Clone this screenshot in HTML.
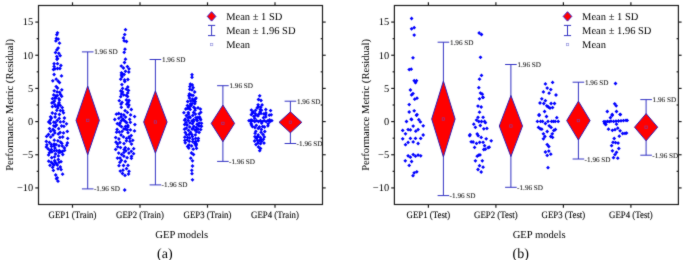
<!DOCTYPE html>
<html><head><meta charset="utf-8"><style>
html,body{margin:0;padding:0;background:#fff;width:685px;height:260px;overflow:hidden}
svg{display:block}
text{font-family:"Liberation Serif",serif;fill:#000;text-rendering:geometricPrecision}
.tg{filter:grayscale(1)}
.xt{font-size:8.8px;stroke:#000;stroke-width:0.1px}
.yt{font-size:10.4px}
.at{font-size:10.6px}
.lg{font-size:10.5px}
.sd{font-size:7.2px;fill:#111;stroke:#111;stroke-width:0.06px}
.pl{font-size:14px}
</style></head><body>
<svg width="685" height="260" viewBox="0 0 685 260">
<defs><filter id="bl" x="0" y="0" width="685" height="260" filterUnits="userSpaceOnUse" color-interpolation-filters="sRGB"><feConvolveMatrix order="3" kernelMatrix="0.02 0.07 0.02 0.07 0.64 0.07 0.02 0.07 0.02" edgeMode="duplicate" preserveAlpha="true"/></filter></defs>
<g filter="url(#bl)">
<rect width="685" height="260" fill="#fff"/>
<g fill="#0000ff"><rect x="56.15" y="31.45" width="2.7" height="2.7" transform="rotate(45 57.50 32.80)"/><rect x="55.45" y="33.35" width="2.7" height="2.7" transform="rotate(45 56.80 34.70)"/><rect x="55.05" y="37.15" width="2.7" height="2.7" transform="rotate(45 56.40 38.50)"/><rect x="56.85" y="37.75" width="2.7" height="2.7" transform="rotate(45 58.20 39.10)"/><rect x="54.55" y="39.55" width="2.7" height="2.7" transform="rotate(45 55.90 40.90)"/><rect x="58.15" y="41.85" width="2.7" height="2.7" transform="rotate(45 59.50 43.20)"/><rect x="56.85" y="46.75" width="2.7" height="2.7" transform="rotate(45 58.20 48.10)"/><rect x="55.45" y="48.55" width="2.7" height="2.7" transform="rotate(45 56.80 49.90)"/><rect x="54.15" y="51.25" width="2.7" height="2.7" transform="rotate(45 55.50 52.60)"/><rect x="57.45" y="51.95" width="2.7" height="2.7" transform="rotate(45 58.80 53.30)"/><rect x="58.85" y="54.35" width="2.7" height="2.7" transform="rotate(45 60.20 55.70)"/><rect x="55.45" y="55.25" width="2.7" height="2.7" transform="rotate(45 56.80 56.60)"/><rect x="56.15" y="57.25" width="2.7" height="2.7" transform="rotate(45 57.50 58.60)"/><rect x="55.65" y="57.95" width="2.7" height="2.7" transform="rotate(45 57.00 59.30)"/><rect x="52.75" y="62.35" width="2.7" height="2.7" transform="rotate(45 54.10 63.70)"/><rect x="56.15" y="62.35" width="2.7" height="2.7" transform="rotate(45 57.50 63.70)"/><rect x="59.55" y="64.15" width="2.7" height="2.7" transform="rotate(45 60.90 65.50)"/><rect x="52.75" y="65.05" width="2.7" height="2.7" transform="rotate(45 54.10 66.40)"/><rect x="56.15" y="67.15" width="2.7" height="2.7" transform="rotate(45 57.50 68.50)"/><rect x="58.55" y="67.15" width="2.7" height="2.7" transform="rotate(45 59.90 68.50)"/><rect x="53.65" y="67.45" width="2.7" height="2.7" transform="rotate(45 55.00 68.80)"/><rect x="52.15" y="68.15" width="2.7" height="2.7" transform="rotate(45 53.50 69.50)"/><rect x="52.75" y="73.15" width="2.7" height="2.7" transform="rotate(45 54.10 74.50)"/><rect x="60.15" y="74.55" width="2.7" height="2.7" transform="rotate(45 61.50 75.90)"/><rect x="51.45" y="79.45" width="2.7" height="2.7" transform="rotate(45 52.80 80.80)"/><rect x="54.85" y="77.85" width="2.7" height="2.7" transform="rotate(45 56.20 79.20)"/><rect x="56.85" y="79.85" width="2.7" height="2.7" transform="rotate(45 58.20 81.20)"/><rect x="58.15" y="81.25" width="2.7" height="2.7" transform="rotate(45 59.50 82.60)"/><rect x="54.85" y="85.25" width="2.7" height="2.7" transform="rotate(45 56.20 86.60)"/><rect x="56.15" y="86.65" width="2.7" height="2.7" transform="rotate(45 57.50 88.00)"/><rect x="51.25" y="165.95" width="2.7" height="2.7" transform="rotate(45 52.60 167.30)"/><rect x="52.05" y="169.05" width="2.7" height="2.7" transform="rotate(45 53.40 170.40)"/><rect x="56.65" y="167.45" width="2.7" height="2.7" transform="rotate(45 58.00 168.80)"/><rect x="58.95" y="165.65" width="2.7" height="2.7" transform="rotate(45 60.30 167.00)"/><rect x="59.75" y="168.25" width="2.7" height="2.7" transform="rotate(45 61.10 169.60)"/><rect x="61.25" y="172.85" width="2.7" height="2.7" transform="rotate(45 62.60 174.20)"/><rect x="54.35" y="173.65" width="2.7" height="2.7" transform="rotate(45 55.70 175.00)"/><rect x="55.85" y="176.45" width="2.7" height="2.7" transform="rotate(45 57.20 177.80)"/><rect x="55.15" y="177.45" width="2.7" height="2.7" transform="rotate(45 56.50 178.80)"/><rect x="56.65" y="179.85" width="2.7" height="2.7" transform="rotate(45 58.00 181.20)"/><rect x="65.15" y="122.45" width="2.7" height="2.7" transform="rotate(45 66.50 123.80)"/><rect x="45.25" y="135.05" width="2.7" height="2.7" transform="rotate(45 46.60 136.40)"/><rect x="51.05" y="105.35" width="2.7" height="2.7" transform="rotate(45 52.40 106.70)"/><rect x="63.05" y="146.65" width="2.7" height="2.7" transform="rotate(45 64.40 148.00)"/><rect x="46.85" y="147.55" width="2.7" height="2.7" transform="rotate(45 48.20 148.90)"/><rect x="66.35" y="137.05" width="2.7" height="2.7" transform="rotate(45 67.70 138.40)"/><rect x="58.85" y="104.05" width="2.7" height="2.7" transform="rotate(45 60.20 105.40)"/><rect x="53.15" y="155.55" width="2.7" height="2.7" transform="rotate(45 54.50 156.90)"/><rect x="49.85" y="143.15" width="2.7" height="2.7" transform="rotate(45 51.20 144.50)"/><rect x="48.85" y="121.95" width="2.7" height="2.7" transform="rotate(45 50.20 123.30)"/><rect x="56.95" y="158.15" width="2.7" height="2.7" transform="rotate(45 58.30 159.50)"/><rect x="57.85" y="117.05" width="2.7" height="2.7" transform="rotate(45 59.20 118.40)"/><rect x="60.25" y="124.65" width="2.7" height="2.7" transform="rotate(45 61.60 126.00)"/><rect x="55.45" y="108.95" width="2.7" height="2.7" transform="rotate(45 56.80 110.30)"/><rect x="62.15" y="131.55" width="2.7" height="2.7" transform="rotate(45 63.50 132.90)"/><rect x="58.55" y="136.05" width="2.7" height="2.7" transform="rotate(45 59.90 137.40)"/><rect x="54.75" y="143.25" width="2.7" height="2.7" transform="rotate(45 56.10 144.60)"/><rect x="63.05" y="116.65" width="2.7" height="2.7" transform="rotate(45 64.40 118.00)"/><rect x="47.25" y="153.55" width="2.7" height="2.7" transform="rotate(45 48.60 154.90)"/><rect x="55.95" y="94.25" width="2.7" height="2.7" transform="rotate(45 57.30 95.60)"/><rect x="55.35" y="149.35" width="2.7" height="2.7" transform="rotate(45 56.70 150.70)"/><rect x="52.85" y="89.45" width="2.7" height="2.7" transform="rotate(45 54.20 90.80)"/><rect x="53.95" y="121.25" width="2.7" height="2.7" transform="rotate(45 55.30 122.60)"/><rect x="61.45" y="153.15" width="2.7" height="2.7" transform="rotate(45 62.80 154.50)"/><rect x="57.55" y="97.35" width="2.7" height="2.7" transform="rotate(45 58.90 98.70)"/><rect x="48.15" y="127.25" width="2.7" height="2.7" transform="rotate(45 49.50 128.60)"/><rect x="60.35" y="94.95" width="2.7" height="2.7" transform="rotate(45 61.70 96.30)"/><rect x="54.15" y="152.65" width="2.7" height="2.7" transform="rotate(45 55.50 154.00)"/><rect x="53.65" y="146.75" width="2.7" height="2.7" transform="rotate(45 55.00 148.10)"/><rect x="53.45" y="131.55" width="2.7" height="2.7" transform="rotate(45 54.80 132.90)"/><rect x="66.05" y="141.65" width="2.7" height="2.7" transform="rotate(45 67.40 143.00)"/><rect x="65.95" y="130.05" width="2.7" height="2.7" transform="rotate(45 67.30 131.40)"/><rect x="58.25" y="90.95" width="2.7" height="2.7" transform="rotate(45 59.60 92.30)"/><rect x="59.65" y="160.35" width="2.7" height="2.7" transform="rotate(45 61.00 161.70)"/><rect x="49.35" y="135.75" width="2.7" height="2.7" transform="rotate(45 50.70 137.10)"/><rect x="58.75" y="131.15" width="2.7" height="2.7" transform="rotate(45 60.10 132.50)"/><rect x="52.45" y="124.45" width="2.7" height="2.7" transform="rotate(45 53.80 125.80)"/><rect x="62.25" y="120.35" width="2.7" height="2.7" transform="rotate(45 63.60 121.70)"/><rect x="47.35" y="120.55" width="2.7" height="2.7" transform="rotate(45 48.70 121.90)"/><rect x="48.05" y="141.05" width="2.7" height="2.7" transform="rotate(45 49.40 142.40)"/><rect x="53.75" y="115.65" width="2.7" height="2.7" transform="rotate(45 55.10 117.00)"/><rect x="57.35" y="127.35" width="2.7" height="2.7" transform="rotate(45 58.70 128.70)"/><rect x="56.55" y="139.45" width="2.7" height="2.7" transform="rotate(45 57.90 140.80)"/><rect x="48.65" y="163.95" width="2.7" height="2.7" transform="rotate(45 50.00 165.30)"/><rect x="53.55" y="103.35" width="2.7" height="2.7" transform="rotate(45 54.90 104.70)"/><rect x="59.05" y="109.25" width="2.7" height="2.7" transform="rotate(45 60.40 110.60)"/><rect x="50.55" y="150.55" width="2.7" height="2.7" transform="rotate(45 51.90 151.90)"/><rect x="53.15" y="99.75" width="2.7" height="2.7" transform="rotate(45 54.50 101.10)"/><rect x="57.05" y="154.55" width="2.7" height="2.7" transform="rotate(45 58.40 155.90)"/><rect x="50.95" y="111.65" width="2.7" height="2.7" transform="rotate(45 52.30 113.00)"/><rect x="57.95" y="149.25" width="2.7" height="2.7" transform="rotate(45 59.30 150.60)"/><rect x="65.25" y="143.95" width="2.7" height="2.7" transform="rotate(45 66.60 145.30)"/><rect x="48.15" y="151.35" width="2.7" height="2.7" transform="rotate(45 49.50 152.70)"/><rect x="58.95" y="120.55" width="2.7" height="2.7" transform="rotate(45 60.30 121.90)"/><rect x="58.05" y="113.15" width="2.7" height="2.7" transform="rotate(45 59.40 114.50)"/><rect x="55.95" y="163.65" width="2.7" height="2.7" transform="rotate(45 57.30 165.00)"/><rect x="49.25" y="115.45" width="2.7" height="2.7" transform="rotate(45 50.60 116.80)"/><rect x="52.35" y="93.55" width="2.7" height="2.7" transform="rotate(45 53.70 94.90)"/><rect x="57.65" y="144.45" width="2.7" height="2.7" transform="rotate(45 59.00 145.80)"/><rect x="61.35" y="135.65" width="2.7" height="2.7" transform="rotate(45 62.70 137.00)"/><rect x="51.55" y="133.65" width="2.7" height="2.7" transform="rotate(45 52.90 135.00)"/><rect x="51.65" y="128.15" width="2.7" height="2.7" transform="rotate(45 53.00 129.50)"/><rect x="49.85" y="160.85" width="2.7" height="2.7" transform="rotate(45 51.20 162.20)"/><rect x="47.35" y="159.85" width="2.7" height="2.7" transform="rotate(45 48.70 161.20)"/><rect x="52.95" y="138.85" width="2.7" height="2.7" transform="rotate(45 54.30 140.20)"/><rect x="56.45" y="106.55" width="2.7" height="2.7" transform="rotate(45 57.80 107.90)"/><rect x="52.55" y="163.75" width="2.7" height="2.7" transform="rotate(45 53.90 165.10)"/><rect x="57.65" y="160.95" width="2.7" height="2.7" transform="rotate(45 59.00 162.30)"/><rect x="50.05" y="148.25" width="2.7" height="2.7" transform="rotate(45 51.40 149.60)"/><rect x="50.55" y="101.55" width="2.7" height="2.7" transform="rotate(45 51.90 102.90)"/><rect x="52.05" y="100.85" width="2.7" height="2.7" transform="rotate(45 53.40 102.20)"/><rect x="50.15" y="145.05" width="2.7" height="2.7" transform="rotate(45 51.50 146.40)"/><rect x="60.85" y="106.25" width="2.7" height="2.7" transform="rotate(45 62.20 107.60)"/><rect x="49.35" y="129.95" width="2.7" height="2.7" transform="rotate(45 50.70 131.30)"/><rect x="62.15" y="111.45" width="2.7" height="2.7" transform="rotate(45 63.50 112.80)"/><rect x="52.75" y="142.75" width="2.7" height="2.7" transform="rotate(45 54.10 144.10)"/><rect x="60.55" y="142.05" width="2.7" height="2.7" transform="rotate(45 61.90 143.40)"/><rect x="54.15" y="105.05" width="2.7" height="2.7" transform="rotate(45 55.50 106.40)"/><rect x="54.55" y="94.55" width="2.7" height="2.7" transform="rotate(45 55.90 95.90)"/><rect x="48.95" y="118.65" width="2.7" height="2.7" transform="rotate(45 50.30 120.00)"/><rect x="56.95" y="132.55" width="2.7" height="2.7" transform="rotate(45 58.30 133.90)"/><rect x="50.35" y="156.35" width="2.7" height="2.7" transform="rotate(45 51.70 157.70)"/><rect x="55.75" y="90.55" width="2.7" height="2.7" transform="rotate(45 57.10 91.90)"/><rect x="44.95" y="140.05" width="2.7" height="2.7" transform="rotate(45 46.30 141.40)"/><rect x="51.15" y="162.25" width="2.7" height="2.7" transform="rotate(45 52.50 163.60)"/><rect x="57.65" y="151.15" width="2.7" height="2.7" transform="rotate(45 59.00 152.50)"/><rect x="51.15" y="97.35" width="2.7" height="2.7" transform="rotate(45 52.50 98.70)"/><rect x="52.95" y="149.35" width="2.7" height="2.7" transform="rotate(45 54.30 150.70)"/><rect x="53.45" y="96.75" width="2.7" height="2.7" transform="rotate(45 54.80 98.10)"/><rect x="53.05" y="129.45" width="2.7" height="2.7" transform="rotate(45 54.40 130.80)"/><rect x="48.75" y="149.25" width="2.7" height="2.7" transform="rotate(45 50.10 150.60)"/><rect x="62.55" y="124.95" width="2.7" height="2.7" transform="rotate(45 63.90 126.30)"/><rect x="45.55" y="143.45" width="2.7" height="2.7" transform="rotate(45 46.90 144.80)"/><rect x="60.45" y="88.45" width="2.7" height="2.7" transform="rotate(45 61.80 89.80)"/><rect x="54.05" y="112.45" width="2.7" height="2.7" transform="rotate(45 55.40 113.80)"/><rect x="60.95" y="144.75" width="2.7" height="2.7" transform="rotate(45 62.30 146.10)"/><rect x="57.65" y="101.35" width="2.7" height="2.7" transform="rotate(45 59.00 102.70)"/><rect x="50.05" y="116.75" width="2.7" height="2.7" transform="rotate(45 51.40 118.10)"/><rect x="59.25" y="140.75" width="2.7" height="2.7" transform="rotate(45 60.60 142.10)"/><rect x="53.35" y="159.35" width="2.7" height="2.7" transform="rotate(45 54.70 160.70)"/><rect x="57.35" y="102.75" width="2.7" height="2.7" transform="rotate(45 58.70 104.10)"/><rect x="54.45" y="96.65" width="2.7" height="2.7" transform="rotate(45 55.80 98.00)"/><rect x="52.45" y="120.85" width="2.7" height="2.7" transform="rotate(45 53.80 122.20)"/><rect x="55.85" y="119.15" width="2.7" height="2.7" transform="rotate(45 57.20 120.50)"/><rect x="61.45" y="109.35" width="2.7" height="2.7" transform="rotate(45 62.80 110.70)"/><rect x="47.15" y="133.15" width="2.7" height="2.7" transform="rotate(45 48.50 134.50)"/><rect x="55.15" y="123.75" width="2.7" height="2.7" transform="rotate(45 56.50 125.10)"/><rect x="58.15" y="98.65" width="2.7" height="2.7" transform="rotate(45 59.50 100.00)"/><rect x="61.05" y="150.15" width="2.7" height="2.7" transform="rotate(45 62.40 151.50)"/><rect x="56.55" y="104.45" width="2.7" height="2.7" transform="rotate(45 57.90 105.80)"/><rect x="59.55" y="150.65" width="2.7" height="2.7" transform="rotate(45 60.90 152.00)"/><rect x="53.65" y="160.55" width="2.7" height="2.7" transform="rotate(45 55.00 161.90)"/><rect x="52.85" y="144.55" width="2.7" height="2.7" transform="rotate(45 54.20 145.90)"/><rect x="53.85" y="125.15" width="2.7" height="2.7" transform="rotate(45 55.20 126.50)"/><rect x="54.65" y="162.05" width="2.7" height="2.7" transform="rotate(45 56.00 163.40)"/><rect x="63.25" y="148.95" width="2.7" height="2.7" transform="rotate(45 64.60 150.30)"/><rect x="45.05" y="145.65" width="2.7" height="2.7" transform="rotate(45 46.40 147.00)"/><rect x="59.15" y="93.15" width="2.7" height="2.7" transform="rotate(45 60.50 94.50)"/><rect x="124.15" y="28.35" width="2.7" height="2.7" transform="rotate(45 125.50 29.70)"/><rect x="123.35" y="33.25" width="2.7" height="2.7" transform="rotate(45 124.70 34.60)"/><rect x="122.15" y="36.65" width="2.7" height="2.7" transform="rotate(45 123.50 38.00)"/><rect x="122.85" y="39.45" width="2.7" height="2.7" transform="rotate(45 124.20 40.80)"/><rect x="125.15" y="40.15" width="2.7" height="2.7" transform="rotate(45 126.50 41.50)"/><rect x="123.65" y="47.85" width="2.7" height="2.7" transform="rotate(45 125.00 49.20)"/><rect x="122.85" y="50.95" width="2.7" height="2.7" transform="rotate(45 124.20 52.30)"/><rect x="124.15" y="57.85" width="2.7" height="2.7" transform="rotate(45 125.50 59.20)"/><rect x="123.15" y="61.15" width="2.7" height="2.7" transform="rotate(45 124.50 62.50)"/><rect x="121.15" y="172.15" width="2.7" height="2.7" transform="rotate(45 122.50 173.50)"/><rect x="123.65" y="174.05" width="2.7" height="2.7" transform="rotate(45 125.00 175.40)"/><rect x="127.15" y="172.65" width="2.7" height="2.7" transform="rotate(45 128.50 174.00)"/><rect x="123.35" y="188.65" width="2.7" height="2.7" transform="rotate(45 124.70 190.00)"/><rect x="122.45" y="113.65" width="2.7" height="2.7" transform="rotate(45 123.80 115.00)"/><rect x="124.95" y="87.85" width="2.7" height="2.7" transform="rotate(45 126.30 89.20)"/><rect x="127.55" y="151.75" width="2.7" height="2.7" transform="rotate(45 128.90 153.10)"/><rect x="129.05" y="128.55" width="2.7" height="2.7" transform="rotate(45 130.40 129.90)"/><rect x="118.55" y="141.15" width="2.7" height="2.7" transform="rotate(45 119.90 142.50)"/><rect x="118.15" y="123.75" width="2.7" height="2.7" transform="rotate(45 119.50 125.10)"/><rect x="124.15" y="69.95" width="2.7" height="2.7" transform="rotate(45 125.50 71.30)"/><rect x="133.25" y="115.25" width="2.7" height="2.7" transform="rotate(45 134.60 116.60)"/><rect x="125.25" y="137.05" width="2.7" height="2.7" transform="rotate(45 126.60 138.40)"/><rect x="125.05" y="98.65" width="2.7" height="2.7" transform="rotate(45 126.40 100.00)"/><rect x="129.05" y="120.95" width="2.7" height="2.7" transform="rotate(45 130.40 122.30)"/><rect x="130.15" y="142.75" width="2.7" height="2.7" transform="rotate(45 131.50 144.10)"/><rect x="126.55" y="78.15" width="2.7" height="2.7" transform="rotate(45 127.90 79.50)"/><rect x="120.05" y="71.45" width="2.7" height="2.7" transform="rotate(45 121.40 72.80)"/><rect x="119.95" y="105.95" width="2.7" height="2.7" transform="rotate(45 121.30 107.30)"/><rect x="115.05" y="112.85" width="2.7" height="2.7" transform="rotate(45 116.40 114.20)"/><rect x="120.75" y="130.05" width="2.7" height="2.7" transform="rotate(45 122.10 131.40)"/><rect x="113.45" y="118.15" width="2.7" height="2.7" transform="rotate(45 114.80 119.50)"/><rect x="115.25" y="130.85" width="2.7" height="2.7" transform="rotate(45 116.60 132.20)"/><rect x="117.45" y="116.95" width="2.7" height="2.7" transform="rotate(45 118.80 118.30)"/><rect x="118.65" y="156.75" width="2.7" height="2.7" transform="rotate(45 120.00 158.10)"/><rect x="130.05" y="156.95" width="2.7" height="2.7" transform="rotate(45 131.40 158.30)"/><rect x="123.95" y="146.35" width="2.7" height="2.7" transform="rotate(45 125.30 147.70)"/><rect x="119.15" y="146.25" width="2.7" height="2.7" transform="rotate(45 120.50 147.60)"/><rect x="120.15" y="125.35" width="2.7" height="2.7" transform="rotate(45 121.50 126.70)"/><rect x="123.95" y="160.15" width="2.7" height="2.7" transform="rotate(45 125.30 161.50)"/><rect x="123.75" y="109.35" width="2.7" height="2.7" transform="rotate(45 125.10 110.70)"/><rect x="114.35" y="136.25" width="2.7" height="2.7" transform="rotate(45 115.70 137.60)"/><rect x="121.65" y="168.85" width="2.7" height="2.7" transform="rotate(45 123.00 170.20)"/><rect x="121.55" y="117.65" width="2.7" height="2.7" transform="rotate(45 122.90 119.00)"/><rect x="127.15" y="147.55" width="2.7" height="2.7" transform="rotate(45 128.50 148.90)"/><rect x="127.65" y="169.95" width="2.7" height="2.7" transform="rotate(45 129.00 171.30)"/><rect x="133.55" y="123.25" width="2.7" height="2.7" transform="rotate(45 134.90 124.60)"/><rect x="129.85" y="134.25" width="2.7" height="2.7" transform="rotate(45 131.20 135.60)"/><rect x="119.75" y="133.65" width="2.7" height="2.7" transform="rotate(45 121.10 135.00)"/><rect x="119.45" y="89.65" width="2.7" height="2.7" transform="rotate(45 120.80 91.00)"/><rect x="133.15" y="129.55" width="2.7" height="2.7" transform="rotate(45 134.50 130.90)"/><rect x="131.45" y="138.95" width="2.7" height="2.7" transform="rotate(45 132.80 140.30)"/><rect x="127.65" y="67.45" width="2.7" height="2.7" transform="rotate(45 129.00 68.80)"/><rect x="120.75" y="101.05" width="2.7" height="2.7" transform="rotate(45 122.10 102.40)"/><rect x="126.35" y="91.65" width="2.7" height="2.7" transform="rotate(45 127.70 93.00)"/><rect x="126.25" y="95.15" width="2.7" height="2.7" transform="rotate(45 127.60 96.50)"/><rect x="127.45" y="70.65" width="2.7" height="2.7" transform="rotate(45 128.80 72.00)"/><rect x="126.65" y="164.05" width="2.7" height="2.7" transform="rotate(45 128.00 165.40)"/><rect x="125.25" y="121.35" width="2.7" height="2.7" transform="rotate(45 126.60 122.70)"/><rect x="114.65" y="140.85" width="2.7" height="2.7" transform="rotate(45 116.00 142.20)"/><rect x="119.35" y="77.85" width="2.7" height="2.7" transform="rotate(45 120.70 79.20)"/><rect x="124.25" y="115.75" width="2.7" height="2.7" transform="rotate(45 125.60 117.10)"/><rect x="119.65" y="102.75" width="2.7" height="2.7" transform="rotate(45 121.00 104.10)"/><rect x="117.35" y="151.75" width="2.7" height="2.7" transform="rotate(45 118.70 153.10)"/><rect x="122.05" y="66.65" width="2.7" height="2.7" transform="rotate(45 123.40 68.00)"/><rect x="120.55" y="83.25" width="2.7" height="2.7" transform="rotate(45 121.90 84.60)"/><rect x="122.15" y="164.15" width="2.7" height="2.7" transform="rotate(45 123.50 165.50)"/><rect x="132.35" y="147.35" width="2.7" height="2.7" transform="rotate(45 133.70 148.70)"/><rect x="117.95" y="99.35" width="2.7" height="2.7" transform="rotate(45 119.30 100.70)"/><rect x="126.85" y="105.55" width="2.7" height="2.7" transform="rotate(45 128.20 106.90)"/><rect x="125.35" y="102.85" width="2.7" height="2.7" transform="rotate(45 126.70 104.20)"/><rect x="123.45" y="80.15" width="2.7" height="2.7" transform="rotate(45 124.80 81.50)"/><rect x="122.75" y="148.25" width="2.7" height="2.7" transform="rotate(45 124.10 149.60)"/><rect x="122.55" y="127.65" width="2.7" height="2.7" transform="rotate(45 123.90 129.00)"/><rect x="126.45" y="85.65" width="2.7" height="2.7" transform="rotate(45 127.80 87.00)"/><rect x="114.35" y="148.05" width="2.7" height="2.7" transform="rotate(45 115.70 149.40)"/><rect x="120.65" y="75.45" width="2.7" height="2.7" transform="rotate(45 122.00 76.80)"/><rect x="125.15" y="167.35" width="2.7" height="2.7" transform="rotate(45 126.50 168.70)"/><rect x="119.35" y="95.35" width="2.7" height="2.7" transform="rotate(45 120.70 96.70)"/><rect x="120.05" y="158.95" width="2.7" height="2.7" transform="rotate(45 121.40 160.30)"/><rect x="129.95" y="108.15" width="2.7" height="2.7" transform="rotate(45 131.30 109.50)"/><rect x="122.75" y="73.15" width="2.7" height="2.7" transform="rotate(45 124.10 74.50)"/><rect x="119.85" y="112.95" width="2.7" height="2.7" transform="rotate(45 121.20 114.30)"/><rect x="124.55" y="149.45" width="2.7" height="2.7" transform="rotate(45 125.90 150.80)"/><rect x="127.55" y="103.65" width="2.7" height="2.7" transform="rotate(45 128.90 105.00)"/><rect x="118.55" y="160.95" width="2.7" height="2.7" transform="rotate(45 119.90 162.30)"/><rect x="125.05" y="139.45" width="2.7" height="2.7" transform="rotate(45 126.40 140.80)"/><rect x="120.35" y="153.15" width="2.7" height="2.7" transform="rotate(45 121.70 154.50)"/><rect x="122.65" y="142.25" width="2.7" height="2.7" transform="rotate(45 124.00 143.60)"/><rect x="122.35" y="93.55" width="2.7" height="2.7" transform="rotate(45 123.70 94.90)"/><rect x="124.95" y="94.05" width="2.7" height="2.7" transform="rotate(45 126.30 95.40)"/><rect x="126.05" y="65.25" width="2.7" height="2.7" transform="rotate(45 127.40 66.60)"/><rect x="124.15" y="120.25" width="2.7" height="2.7" transform="rotate(45 125.50 121.60)"/><rect x="119.75" y="115.45" width="2.7" height="2.7" transform="rotate(45 121.10 116.80)"/><rect x="127.65" y="99.15" width="2.7" height="2.7" transform="rotate(45 129.00 100.50)"/><rect x="118.95" y="169.75" width="2.7" height="2.7" transform="rotate(45 120.30 171.10)"/><rect x="128.65" y="140.05" width="2.7" height="2.7" transform="rotate(45 130.00 141.40)"/><rect x="120.05" y="119.35" width="2.7" height="2.7" transform="rotate(45 121.40 120.70)"/><rect x="127.65" y="135.65" width="2.7" height="2.7" transform="rotate(45 129.00 137.00)"/><rect x="125.95" y="128.45" width="2.7" height="2.7" transform="rotate(45 127.30 129.80)"/><rect x="132.25" y="152.35" width="2.7" height="2.7" transform="rotate(45 133.60 153.70)"/><rect x="121.25" y="87.05" width="2.7" height="2.7" transform="rotate(45 122.60 88.40)"/><rect x="116.15" y="142.65" width="2.7" height="2.7" transform="rotate(45 117.50 144.00)"/><rect x="121.15" y="90.65" width="2.7" height="2.7" transform="rotate(45 122.50 92.00)"/><rect x="122.55" y="151.05" width="2.7" height="2.7" transform="rotate(45 123.90 152.40)"/><rect x="124.15" y="125.15" width="2.7" height="2.7" transform="rotate(45 125.50 126.50)"/><rect x="123.25" y="78.55" width="2.7" height="2.7" transform="rotate(45 124.60 79.90)"/><rect x="127.15" y="89.05" width="2.7" height="2.7" transform="rotate(45 128.50 90.40)"/><rect x="129.95" y="149.95" width="2.7" height="2.7" transform="rotate(45 131.30 151.30)"/><rect x="117.55" y="137.65" width="2.7" height="2.7" transform="rotate(45 118.90 139.00)"/><rect x="117.65" y="164.35" width="2.7" height="2.7" transform="rotate(45 119.00 165.70)"/><rect x="115.75" y="128.15" width="2.7" height="2.7" transform="rotate(45 117.10 129.50)"/><rect x="122.55" y="154.85" width="2.7" height="2.7" transform="rotate(45 123.90 156.20)"/><rect x="117.35" y="112.15" width="2.7" height="2.7" transform="rotate(45 118.70 113.50)"/><rect x="116.15" y="156.75" width="2.7" height="2.7" transform="rotate(45 117.50 158.10)"/><rect x="126.65" y="125.55" width="2.7" height="2.7" transform="rotate(45 128.00 126.90)"/><rect x="126.55" y="124.15" width="2.7" height="2.7" transform="rotate(45 127.90 125.50)"/><rect x="115.95" y="122.35" width="2.7" height="2.7" transform="rotate(45 117.30 123.70)"/><rect x="120.15" y="92.75" width="2.7" height="2.7" transform="rotate(45 121.50 94.10)"/><rect x="128.45" y="137.05" width="2.7" height="2.7" transform="rotate(45 129.80 138.40)"/><rect x="124.65" y="127.85" width="2.7" height="2.7" transform="rotate(45 126.00 129.20)"/><rect x="122.15" y="135.55" width="2.7" height="2.7" transform="rotate(45 123.50 136.90)"/><rect x="129.25" y="113.55" width="2.7" height="2.7" transform="rotate(45 130.60 114.90)"/><rect x="125.75" y="156.35" width="2.7" height="2.7" transform="rotate(45 127.10 157.70)"/><rect x="118.65" y="121.65" width="2.7" height="2.7" transform="rotate(45 120.00 123.00)"/><rect x="119.95" y="64.75" width="2.7" height="2.7" transform="rotate(45 121.30 66.10)"/><rect x="130.15" y="154.95" width="2.7" height="2.7" transform="rotate(45 131.50 156.30)"/><rect x="120.95" y="72.55" width="2.7" height="2.7" transform="rotate(45 122.30 73.90)"/><rect x="120.05" y="73.75" width="2.7" height="2.7" transform="rotate(45 121.40 75.10)"/><rect x="116.45" y="145.45" width="2.7" height="2.7" transform="rotate(45 117.80 146.80)"/><rect x="126.65" y="101.15" width="2.7" height="2.7" transform="rotate(45 128.00 102.50)"/><rect x="128.35" y="117.95" width="2.7" height="2.7" transform="rotate(45 129.70 119.30)"/><rect x="117.95" y="130.65" width="2.7" height="2.7" transform="rotate(45 119.30 132.00)"/><rect x="122.85" y="119.25" width="2.7" height="2.7" transform="rotate(45 124.20 120.60)"/><rect x="126.65" y="131.35" width="2.7" height="2.7" transform="rotate(45 128.00 132.70)"/><rect x="126.05" y="111.05" width="2.7" height="2.7" transform="rotate(45 127.40 112.40)"/><rect x="190.65" y="73.35" width="2.7" height="2.7" transform="rotate(45 192.00 74.70)"/><rect x="190.65" y="75.95" width="2.7" height="2.7" transform="rotate(45 192.00 77.30)"/><rect x="190.15" y="151.65" width="2.7" height="2.7" transform="rotate(45 191.50 153.00)"/><rect x="192.15" y="153.15" width="2.7" height="2.7" transform="rotate(45 193.50 154.50)"/><rect x="189.45" y="156.85" width="2.7" height="2.7" transform="rotate(45 190.80 158.20)"/><rect x="191.15" y="159.45" width="2.7" height="2.7" transform="rotate(45 192.50 160.80)"/><rect x="191.15" y="164.65" width="2.7" height="2.7" transform="rotate(45 192.50 166.00)"/><rect x="190.45" y="168.95" width="2.7" height="2.7" transform="rotate(45 191.80 170.30)"/><rect x="190.65" y="172.35" width="2.7" height="2.7" transform="rotate(45 192.00 173.70)"/><rect x="191.15" y="178.45" width="2.7" height="2.7" transform="rotate(45 192.50 179.80)"/><rect x="194.05" y="112.75" width="2.7" height="2.7" transform="rotate(45 195.40 114.10)"/><rect x="197.75" y="131.05" width="2.7" height="2.7" transform="rotate(45 199.10 132.40)"/><rect x="190.65" y="119.55" width="2.7" height="2.7" transform="rotate(45 192.00 120.90)"/><rect x="188.05" y="92.65" width="2.7" height="2.7" transform="rotate(45 189.40 94.00)"/><rect x="188.85" y="108.05" width="2.7" height="2.7" transform="rotate(45 190.20 109.40)"/><rect x="199.35" y="118.45" width="2.7" height="2.7" transform="rotate(45 200.70 119.80)"/><rect x="183.15" y="127.85" width="2.7" height="2.7" transform="rotate(45 184.50 129.20)"/><rect x="183.25" y="118.85" width="2.7" height="2.7" transform="rotate(45 184.60 120.20)"/><rect x="193.45" y="102.35" width="2.7" height="2.7" transform="rotate(45 194.80 103.70)"/><rect x="189.05" y="82.75" width="2.7" height="2.7" transform="rotate(45 190.40 84.10)"/><rect x="182.55" y="111.35" width="2.7" height="2.7" transform="rotate(45 183.90 112.70)"/><rect x="183.45" y="135.85" width="2.7" height="2.7" transform="rotate(45 184.80 137.20)"/><rect x="195.65" y="122.85" width="2.7" height="2.7" transform="rotate(45 197.00 124.20)"/><rect x="193.65" y="98.05" width="2.7" height="2.7" transform="rotate(45 195.00 99.40)"/><rect x="187.45" y="146.75" width="2.7" height="2.7" transform="rotate(45 188.80 148.10)"/><rect x="183.95" y="141.45" width="2.7" height="2.7" transform="rotate(45 185.30 142.80)"/><rect x="193.95" y="133.55" width="2.7" height="2.7" transform="rotate(45 195.30 134.90)"/><rect x="183.35" y="123.15" width="2.7" height="2.7" transform="rotate(45 184.70 124.50)"/><rect x="193.75" y="107.25" width="2.7" height="2.7" transform="rotate(45 195.10 108.60)"/><rect x="188.35" y="136.65" width="2.7" height="2.7" transform="rotate(45 189.70 138.00)"/><rect x="188.45" y="87.95" width="2.7" height="2.7" transform="rotate(45 189.80 89.30)"/><rect x="193.35" y="90.65" width="2.7" height="2.7" transform="rotate(45 194.70 92.00)"/><rect x="187.15" y="112.75" width="2.7" height="2.7" transform="rotate(45 188.50 114.10)"/><rect x="198.65" y="124.75" width="2.7" height="2.7" transform="rotate(45 200.00 126.10)"/><rect x="187.95" y="139.95" width="2.7" height="2.7" transform="rotate(45 189.30 141.30)"/><rect x="195.15" y="146.95" width="2.7" height="2.7" transform="rotate(45 196.50 148.30)"/><rect x="194.75" y="142.05" width="2.7" height="2.7" transform="rotate(45 196.10 143.40)"/><rect x="191.75" y="126.95" width="2.7" height="2.7" transform="rotate(45 193.10 128.30)"/><rect x="191.85" y="147.85" width="2.7" height="2.7" transform="rotate(45 193.20 149.20)"/><rect x="190.25" y="144.55" width="2.7" height="2.7" transform="rotate(45 191.60 145.90)"/><rect x="187.75" y="133.15" width="2.7" height="2.7" transform="rotate(45 189.10 134.50)"/><rect x="186.05" y="104.25" width="2.7" height="2.7" transform="rotate(45 187.40 105.60)"/><rect x="183.95" y="131.15" width="2.7" height="2.7" transform="rotate(45 185.30 132.50)"/><rect x="191.75" y="94.05" width="2.7" height="2.7" transform="rotate(45 193.10 95.40)"/><rect x="196.65" y="106.45" width="2.7" height="2.7" transform="rotate(45 198.00 107.80)"/><rect x="189.35" y="99.55" width="2.7" height="2.7" transform="rotate(45 190.70 100.90)"/><rect x="193.95" y="100.35" width="2.7" height="2.7" transform="rotate(45 195.30 101.70)"/><rect x="188.15" y="96.75" width="2.7" height="2.7" transform="rotate(45 189.50 98.10)"/><rect x="185.85" y="123.65" width="2.7" height="2.7" transform="rotate(45 187.20 125.00)"/><rect x="189.75" y="104.15" width="2.7" height="2.7" transform="rotate(45 191.10 105.50)"/><rect x="189.15" y="130.95" width="2.7" height="2.7" transform="rotate(45 190.50 132.30)"/><rect x="194.35" y="137.05" width="2.7" height="2.7" transform="rotate(45 195.70 138.40)"/><rect x="184.45" y="107.65" width="2.7" height="2.7" transform="rotate(45 185.80 109.00)"/><rect x="191.85" y="86.35" width="2.7" height="2.7" transform="rotate(45 193.20 87.70)"/><rect x="195.15" y="130.55" width="2.7" height="2.7" transform="rotate(45 196.50 131.90)"/><rect x="188.35" y="125.55" width="2.7" height="2.7" transform="rotate(45 189.70 126.90)"/><rect x="199.05" y="107.75" width="2.7" height="2.7" transform="rotate(45 200.40 109.10)"/><rect x="190.65" y="88.55" width="2.7" height="2.7" transform="rotate(45 192.00 89.90)"/><rect x="190.95" y="83.65" width="2.7" height="2.7" transform="rotate(45 192.30 85.00)"/><rect x="199.45" y="110.95" width="2.7" height="2.7" transform="rotate(45 200.80 112.30)"/><rect x="187.65" y="143.65" width="2.7" height="2.7" transform="rotate(45 189.00 145.00)"/><rect x="185.15" y="133.35" width="2.7" height="2.7" transform="rotate(45 186.50 134.70)"/><rect x="185.05" y="126.75" width="2.7" height="2.7" transform="rotate(45 186.40 128.10)"/><rect x="196.85" y="139.35" width="2.7" height="2.7" transform="rotate(45 198.20 140.70)"/><rect x="194.25" y="140.15" width="2.7" height="2.7" transform="rotate(45 195.60 141.50)"/><rect x="192.25" y="111.05" width="2.7" height="2.7" transform="rotate(45 193.60 112.40)"/><rect x="194.65" y="116.25" width="2.7" height="2.7" transform="rotate(45 196.00 117.60)"/><rect x="188.75" y="116.35" width="2.7" height="2.7" transform="rotate(45 190.10 117.70)"/><rect x="191.05" y="122.35" width="2.7" height="2.7" transform="rotate(45 192.40 123.70)"/><rect x="197.85" y="121.75" width="2.7" height="2.7" transform="rotate(45 199.20 123.10)"/><rect x="191.15" y="97.75" width="2.7" height="2.7" transform="rotate(45 192.50 99.10)"/><rect x="195.55" y="128.05" width="2.7" height="2.7" transform="rotate(45 196.90 129.40)"/><rect x="193.75" y="108.85" width="2.7" height="2.7" transform="rotate(45 195.10 110.20)"/><rect x="192.45" y="105.85" width="2.7" height="2.7" transform="rotate(45 193.80 107.20)"/><rect x="199.35" y="128.25" width="2.7" height="2.7" transform="rotate(45 200.70 129.60)"/><rect x="191.45" y="114.05" width="2.7" height="2.7" transform="rotate(45 192.80 115.40)"/><rect x="191.35" y="140.35" width="2.7" height="2.7" transform="rotate(45 192.70 141.70)"/><rect x="198.65" y="117.25" width="2.7" height="2.7" transform="rotate(45 200.00 118.60)"/><rect x="200.15" y="121.95" width="2.7" height="2.7" transform="rotate(45 201.50 123.30)"/><rect x="192.45" y="124.95" width="2.7" height="2.7" transform="rotate(45 193.80 126.30)"/><rect x="194.85" y="126.05" width="2.7" height="2.7" transform="rotate(45 196.20 127.40)"/><rect x="186.95" y="111.25" width="2.7" height="2.7" transform="rotate(45 188.30 112.60)"/><rect x="194.85" y="143.25" width="2.7" height="2.7" transform="rotate(45 196.20 144.60)"/><rect x="193.65" y="128.75" width="2.7" height="2.7" transform="rotate(45 195.00 130.10)"/><rect x="186.35" y="100.15" width="2.7" height="2.7" transform="rotate(45 187.70 101.50)"/><rect x="186.25" y="136.05" width="2.7" height="2.7" transform="rotate(45 187.60 137.40)"/><rect x="186.25" y="145.15" width="2.7" height="2.7" transform="rotate(45 187.60 146.50)"/><rect x="191.55" y="137.95" width="2.7" height="2.7" transform="rotate(45 192.90 139.30)"/><rect x="188.55" y="85.25" width="2.7" height="2.7" transform="rotate(45 189.90 86.60)"/><rect x="188.05" y="105.65" width="2.7" height="2.7" transform="rotate(45 189.40 107.00)"/><rect x="195.25" y="118.45" width="2.7" height="2.7" transform="rotate(45 196.60 119.80)"/><rect x="190.45" y="133.15" width="2.7" height="2.7" transform="rotate(45 191.80 134.50)"/><rect x="184.75" y="121.05" width="2.7" height="2.7" transform="rotate(45 186.10 122.40)"/><rect x="188.55" y="121.55" width="2.7" height="2.7" transform="rotate(45 189.90 122.90)"/><rect x="189.75" y="93.75" width="2.7" height="2.7" transform="rotate(45 191.10 95.10)"/><rect x="192.05" y="99.65" width="2.7" height="2.7" transform="rotate(45 193.40 101.00)"/><rect x="183.95" y="117.85" width="2.7" height="2.7" transform="rotate(45 185.30 119.20)"/><rect x="186.15" y="106.95" width="2.7" height="2.7" transform="rotate(45 187.50 108.30)"/><rect x="196.95" y="127.85" width="2.7" height="2.7" transform="rotate(45 198.30 129.20)"/><rect x="191.05" y="135.25" width="2.7" height="2.7" transform="rotate(45 192.40 136.60)"/><rect x="183.55" y="139.15" width="2.7" height="2.7" transform="rotate(45 184.90 140.50)"/><rect x="194.65" y="144.35" width="2.7" height="2.7" transform="rotate(45 196.00 145.70)"/><rect x="186.65" y="116.25" width="2.7" height="2.7" transform="rotate(45 188.00 117.60)"/><rect x="187.55" y="94.45" width="2.7" height="2.7" transform="rotate(45 188.90 95.80)"/><rect x="195.85" y="119.25" width="2.7" height="2.7" transform="rotate(45 197.20 120.60)"/><rect x="196.95" y="137.15" width="2.7" height="2.7" transform="rotate(45 198.30 138.50)"/><rect x="200.15" y="124.95" width="2.7" height="2.7" transform="rotate(45 201.50 126.30)"/><rect x="184.95" y="114.25" width="2.7" height="2.7" transform="rotate(45 186.30 115.60)"/><rect x="187.15" y="128.95" width="2.7" height="2.7" transform="rotate(45 188.50 130.30)"/><rect x="192.35" y="118.35" width="2.7" height="2.7" transform="rotate(45 193.70 119.70)"/><rect x="189.05" y="102.75" width="2.7" height="2.7" transform="rotate(45 190.40 104.10)"/><rect x="185.85" y="138.55" width="2.7" height="2.7" transform="rotate(45 187.20 139.90)"/><rect x="197.05" y="124.35" width="2.7" height="2.7" transform="rotate(45 198.40 125.70)"/><rect x="187.55" y="106.95" width="2.7" height="2.7" transform="rotate(45 188.90 108.30)"/><rect x="196.55" y="116.15" width="2.7" height="2.7" transform="rotate(45 197.90 117.50)"/><rect x="193.45" y="142.15" width="2.7" height="2.7" transform="rotate(45 194.80 143.50)"/><rect x="198.35" y="115.85" width="2.7" height="2.7" transform="rotate(45 199.70 117.20)"/><rect x="194.65" y="96.75" width="2.7" height="2.7" transform="rotate(45 196.00 98.10)"/><rect x="192.15" y="120.15" width="2.7" height="2.7" transform="rotate(45 193.50 121.50)"/><rect x="186.85" y="119.15" width="2.7" height="2.7" transform="rotate(45 188.20 120.50)"/><rect x="190.75" y="102.25" width="2.7" height="2.7" transform="rotate(45 192.10 103.60)"/><rect x="188.35" y="115.45" width="2.7" height="2.7" transform="rotate(45 189.70 116.80)"/><rect x="197.85" y="112.45" width="2.7" height="2.7" transform="rotate(45 199.20 113.80)"/><rect x="190.75" y="127.65" width="2.7" height="2.7" transform="rotate(45 192.10 129.00)"/><rect x="258.35" y="94.45" width="2.7" height="2.7" transform="rotate(45 259.70 95.80)"/><rect x="257.15" y="98.15" width="2.7" height="2.7" transform="rotate(45 258.50 99.50)"/><rect x="259.65" y="99.15" width="2.7" height="2.7" transform="rotate(45 261.00 100.50)"/><rect x="247.65" y="119.35" width="2.7" height="2.7" transform="rotate(45 249.00 120.70)"/><rect x="249.55" y="120.25" width="2.7" height="2.7" transform="rotate(45 250.90 121.60)"/><rect x="251.45" y="119.35" width="2.7" height="2.7" transform="rotate(45 252.80 120.70)"/><rect x="253.35" y="120.25" width="2.7" height="2.7" transform="rotate(45 254.70 121.60)"/><rect x="255.25" y="119.35" width="2.7" height="2.7" transform="rotate(45 256.60 120.70)"/><rect x="257.15" y="120.25" width="2.7" height="2.7" transform="rotate(45 258.50 121.60)"/><rect x="259.05" y="119.35" width="2.7" height="2.7" transform="rotate(45 260.40 120.70)"/><rect x="260.95" y="120.25" width="2.7" height="2.7" transform="rotate(45 262.30 121.60)"/><rect x="262.85" y="119.35" width="2.7" height="2.7" transform="rotate(45 264.20 120.70)"/><rect x="264.75" y="120.25" width="2.7" height="2.7" transform="rotate(45 266.10 121.60)"/><rect x="266.65" y="119.35" width="2.7" height="2.7" transform="rotate(45 268.00 120.70)"/><rect x="268.55" y="120.25" width="2.7" height="2.7" transform="rotate(45 269.90 121.60)"/><rect x="270.45" y="119.35" width="2.7" height="2.7" transform="rotate(45 271.80 120.70)"/><rect x="257.15" y="145.65" width="2.7" height="2.7" transform="rotate(45 258.50 147.00)"/><rect x="259.15" y="147.15" width="2.7" height="2.7" transform="rotate(45 260.50 148.50)"/><rect x="258.35" y="149.35" width="2.7" height="2.7" transform="rotate(45 259.70 150.70)"/><rect x="262.95" y="135.55" width="2.7" height="2.7" transform="rotate(45 264.30 136.90)"/><rect x="254.45" y="129.95" width="2.7" height="2.7" transform="rotate(45 255.80 131.30)"/><rect x="264.55" y="111.55" width="2.7" height="2.7" transform="rotate(45 265.90 112.90)"/><rect x="256.95" y="105.35" width="2.7" height="2.7" transform="rotate(45 258.30 106.70)"/><rect x="258.05" y="125.65" width="2.7" height="2.7" transform="rotate(45 259.40 127.00)"/><rect x="266.55" y="124.45" width="2.7" height="2.7" transform="rotate(45 267.90 125.80)"/><rect x="263.15" y="125.65" width="2.7" height="2.7" transform="rotate(45 264.50 127.00)"/><rect x="260.35" y="139.95" width="2.7" height="2.7" transform="rotate(45 261.70 141.30)"/><rect x="251.95" y="110.45" width="2.7" height="2.7" transform="rotate(45 253.30 111.80)"/><rect x="269.25" y="109.25" width="2.7" height="2.7" transform="rotate(45 270.60 110.60)"/><rect x="257.25" y="112.95" width="2.7" height="2.7" transform="rotate(45 258.60 114.30)"/><rect x="263.45" y="130.15" width="2.7" height="2.7" transform="rotate(45 264.80 131.50)"/><rect x="254.95" y="137.05" width="2.7" height="2.7" transform="rotate(45 256.30 138.40)"/><rect x="264.45" y="108.15" width="2.7" height="2.7" transform="rotate(45 265.80 109.50)"/><rect x="259.75" y="130.95" width="2.7" height="2.7" transform="rotate(45 261.10 132.30)"/><rect x="254.95" y="123.95" width="2.7" height="2.7" transform="rotate(45 256.30 125.30)"/><rect x="256.55" y="135.15" width="2.7" height="2.7" transform="rotate(45 257.90 136.50)"/><rect x="252.45" y="114.95" width="2.7" height="2.7" transform="rotate(45 253.80 116.30)"/><rect x="253.75" y="131.95" width="2.7" height="2.7" transform="rotate(45 255.10 133.30)"/><rect x="262.15" y="116.35" width="2.7" height="2.7" transform="rotate(45 263.50 117.70)"/><rect x="253.25" y="139.65" width="2.7" height="2.7" transform="rotate(45 254.60 141.00)"/><rect x="258.05" y="139.25" width="2.7" height="2.7" transform="rotate(45 259.40 140.60)"/><rect x="253.45" y="117.05" width="2.7" height="2.7" transform="rotate(45 254.80 118.40)"/><rect x="250.05" y="108.75" width="2.7" height="2.7" transform="rotate(45 251.40 110.10)"/><rect x="253.55" y="135.35" width="2.7" height="2.7" transform="rotate(45 254.90 136.70)"/><rect x="250.15" y="123.55" width="2.7" height="2.7" transform="rotate(45 251.50 124.90)"/><rect x="261.65" y="133.15" width="2.7" height="2.7" transform="rotate(45 263.00 134.50)"/><rect x="259.65" y="112.05" width="2.7" height="2.7" transform="rotate(45 261.00 113.40)"/><rect x="249.95" y="113.35" width="2.7" height="2.7" transform="rotate(45 251.30 114.70)"/><rect x="262.05" y="137.95" width="2.7" height="2.7" transform="rotate(45 263.40 139.30)"/><rect x="250.95" y="111.65" width="2.7" height="2.7" transform="rotate(45 252.30 113.00)"/><rect x="251.05" y="125.25" width="2.7" height="2.7" transform="rotate(45 252.40 126.60)"/><rect x="259.15" y="142.35" width="2.7" height="2.7" transform="rotate(45 260.50 143.70)"/><rect x="264.35" y="115.55" width="2.7" height="2.7" transform="rotate(45 265.70 116.90)"/><rect x="261.35" y="125.15" width="2.7" height="2.7" transform="rotate(45 262.70 126.50)"/><rect x="256.65" y="141.65" width="2.7" height="2.7" transform="rotate(45 258.00 143.00)"/><rect x="254.25" y="108.95" width="2.7" height="2.7" transform="rotate(45 255.60 110.30)"/><rect x="256.85" y="133.65" width="2.7" height="2.7" transform="rotate(45 258.20 135.00)"/><rect x="260.75" y="103.55" width="2.7" height="2.7" transform="rotate(45 262.10 104.90)"/><rect x="260.15" y="108.85" width="2.7" height="2.7" transform="rotate(45 261.50 110.20)"/><rect x="258.95" y="136.15" width="2.7" height="2.7" transform="rotate(45 260.30 137.50)"/><rect x="267.95" y="113.85" width="2.7" height="2.7" transform="rotate(45 269.30 115.20)"/><rect x="253.55" y="126.15" width="2.7" height="2.7" transform="rotate(45 254.90 127.50)"/><rect x="258.95" y="108.15" width="2.7" height="2.7" transform="rotate(45 260.30 109.50)"/><rect x="255.75" y="135.85" width="2.7" height="2.7" transform="rotate(45 257.10 137.20)"/><rect x="254.45" y="113.85" width="2.7" height="2.7" transform="rotate(45 255.80 115.20)"/><rect x="260.25" y="121.75" width="2.7" height="2.7" transform="rotate(45 261.60 123.10)"/><rect x="254.65" y="143.15" width="2.7" height="2.7" transform="rotate(45 256.00 144.50)"/><rect x="262.65" y="141.75" width="2.7" height="2.7" transform="rotate(45 264.00 143.10)"/><rect x="264.25" y="113.45" width="2.7" height="2.7" transform="rotate(45 265.60 114.80)"/><rect x="266.85" y="122.45" width="2.7" height="2.7" transform="rotate(45 268.20 123.80)"/><rect x="253.85" y="112.05" width="2.7" height="2.7" transform="rotate(45 255.20 113.40)"/><rect x="256.85" y="127.05" width="2.7" height="2.7" transform="rotate(45 258.20 128.40)"/><rect x="256.25" y="139.25" width="2.7" height="2.7" transform="rotate(45 257.60 140.60)"/><rect x="256.65" y="114.55" width="2.7" height="2.7" transform="rotate(45 258.00 115.90)"/><rect x="259.65" y="138.15" width="2.7" height="2.7" transform="rotate(45 261.00 139.50)"/><rect x="259.95" y="128.15" width="2.7" height="2.7" transform="rotate(45 261.30 129.50)"/><rect x="249.75" y="122.35" width="2.7" height="2.7" transform="rotate(45 251.10 123.70)"/><rect x="255.85" y="106.55" width="2.7" height="2.7" transform="rotate(45 257.20 107.90)"/><rect x="256.75" y="103.45" width="2.7" height="2.7" transform="rotate(45 258.10 104.80)"/><rect x="249.75" y="118.55" width="2.7" height="2.7" transform="rotate(45 251.10 119.90)"/><rect x="269.85" y="113.45" width="2.7" height="2.7" transform="rotate(45 271.20 114.80)"/><rect x="258.65" y="110.65" width="2.7" height="2.7" transform="rotate(45 260.00 112.00)"/><rect x="268.25" y="118.65" width="2.7" height="2.7" transform="rotate(45 269.60 120.00)"/><rect x="259.45" y="105.85" width="2.7" height="2.7" transform="rotate(45 260.80 107.20)"/><rect x="262.45" y="112.55" width="2.7" height="2.7" transform="rotate(45 263.80 113.90)"/></g>
<line x1="87.7" y1="51.9" x2="87.7" y2="188.9" stroke="#3434c4" stroke-width="1"/>
<line x1="81.9" y1="51.9" x2="93.5" y2="51.9" stroke="#3434c4" stroke-width="1"/>
<line x1="81.9" y1="188.9" x2="93.5" y2="188.9" stroke="#3434c4" stroke-width="1"/>
<polygon points="87.7,86.0 99.35000000000001,120.4 87.7,154.8 76.05,120.4" fill="#ff0000" stroke="#3020b8" stroke-width="1"/>
<rect x="86.5" y="119.2" width="2.4" height="2.4" fill="none" stroke="#8a3a9a" stroke-width="0.7"/>
<line x1="155.4" y1="59.5" x2="155.4" y2="184.9" stroke="#3434c4" stroke-width="1"/>
<line x1="149.6" y1="59.5" x2="161.20000000000002" y2="59.5" stroke="#3434c4" stroke-width="1"/>
<line x1="149.6" y1="184.9" x2="161.20000000000002" y2="184.9" stroke="#3434c4" stroke-width="1"/>
<polygon points="155.4,90.9 167.1,122.0 155.4,153.1 143.70000000000002,122.0" fill="#ff0000" stroke="#3020b8" stroke-width="1"/>
<rect x="154.20000000000002" y="120.8" width="2.4" height="2.4" fill="none" stroke="#8a3a9a" stroke-width="0.7"/>
<line x1="222.9" y1="85.7" x2="222.9" y2="161.4" stroke="#3434c4" stroke-width="1"/>
<line x1="217.1" y1="85.7" x2="228.70000000000002" y2="85.7" stroke="#3434c4" stroke-width="1"/>
<line x1="217.1" y1="161.4" x2="228.70000000000002" y2="161.4" stroke="#3434c4" stroke-width="1"/>
<polygon points="222.9,105.10000000000001 234.6,123.4 222.9,141.70000000000002 211.20000000000002,123.4" fill="#ff0000" stroke="#3020b8" stroke-width="1"/>
<rect x="221.70000000000002" y="122.2" width="2.4" height="2.4" fill="none" stroke="#8a3a9a" stroke-width="0.7"/>
<line x1="290.4" y1="101.2" x2="290.4" y2="143.5" stroke="#3434c4" stroke-width="1"/>
<line x1="284.59999999999997" y1="101.2" x2="296.2" y2="101.2" stroke="#3434c4" stroke-width="1"/>
<line x1="284.59999999999997" y1="143.5" x2="296.2" y2="143.5" stroke="#3434c4" stroke-width="1"/>
<polygon points="290.4,111.8 301.79999999999995,122.3 290.4,132.8 279.0,122.3" fill="#ff0000" stroke="#3020b8" stroke-width="1"/>
<rect x="289.2" y="121.1" width="2.4" height="2.4" fill="none" stroke="#8a3a9a" stroke-width="0.7"/>
<rect x="38.5" y="5.5" width="284.0" height="199.0" fill="none" stroke="#1e1e1e" stroke-width="1.2"/>
<line x1="35.3" y1="22.08" x2="38.5" y2="22.08" stroke="#1e1e1e" stroke-width="1.2"/>
<line x1="322.5" y1="22.08" x2="325.7" y2="22.08" stroke="#1e1e1e" stroke-width="1.2"/>
<line x1="35.3" y1="55.25" x2="38.5" y2="55.25" stroke="#1e1e1e" stroke-width="1.2"/>
<line x1="322.5" y1="55.25" x2="325.7" y2="55.25" stroke="#1e1e1e" stroke-width="1.2"/>
<line x1="35.3" y1="88.42" x2="38.5" y2="88.42" stroke="#1e1e1e" stroke-width="1.2"/>
<line x1="322.5" y1="88.42" x2="325.7" y2="88.42" stroke="#1e1e1e" stroke-width="1.2"/>
<line x1="35.3" y1="121.58" x2="38.5" y2="121.58" stroke="#1e1e1e" stroke-width="1.2"/>
<line x1="322.5" y1="121.58" x2="325.7" y2="121.58" stroke="#1e1e1e" stroke-width="1.2"/>
<line x1="35.3" y1="154.75" x2="38.5" y2="154.75" stroke="#1e1e1e" stroke-width="1.2"/>
<line x1="322.5" y1="154.75" x2="325.7" y2="154.75" stroke="#1e1e1e" stroke-width="1.2"/>
<line x1="35.3" y1="187.92" x2="38.5" y2="187.92" stroke="#1e1e1e" stroke-width="1.2"/>
<line x1="322.5" y1="187.92" x2="325.7" y2="187.92" stroke="#1e1e1e" stroke-width="1.2"/>
<line x1="36.7" y1="38.67" x2="38.5" y2="38.67" stroke="#1e1e1e" stroke-width="1.2"/>
<line x1="320.7" y1="38.67" x2="322.5" y2="38.67" stroke="#1e1e1e" stroke-width="1.2"/>
<line x1="36.7" y1="71.83" x2="38.5" y2="71.83" stroke="#1e1e1e" stroke-width="1.2"/>
<line x1="320.7" y1="71.83" x2="322.5" y2="71.83" stroke="#1e1e1e" stroke-width="1.2"/>
<line x1="36.7" y1="105.00" x2="38.5" y2="105.00" stroke="#1e1e1e" stroke-width="1.2"/>
<line x1="320.7" y1="105.00" x2="322.5" y2="105.00" stroke="#1e1e1e" stroke-width="1.2"/>
<line x1="36.7" y1="138.17" x2="38.5" y2="138.17" stroke="#1e1e1e" stroke-width="1.2"/>
<line x1="320.7" y1="138.17" x2="322.5" y2="138.17" stroke="#1e1e1e" stroke-width="1.2"/>
<line x1="36.7" y1="171.33" x2="38.5" y2="171.33" stroke="#1e1e1e" stroke-width="1.2"/>
<line x1="320.7" y1="171.33" x2="322.5" y2="171.33" stroke="#1e1e1e" stroke-width="1.2"/>
<line x1="72.5" y1="204.5" x2="72.5" y2="207.7" stroke="#1e1e1e" stroke-width="1.2"/>
<line x1="72.5" y1="2.3" x2="72.5" y2="5.5" stroke="#1e1e1e" stroke-width="1.2"/>
<line x1="140.0" y1="204.5" x2="140.0" y2="207.7" stroke="#1e1e1e" stroke-width="1.2"/>
<line x1="140.0" y1="2.3" x2="140.0" y2="5.5" stroke="#1e1e1e" stroke-width="1.2"/>
<line x1="207.5" y1="204.5" x2="207.5" y2="207.7" stroke="#1e1e1e" stroke-width="1.2"/>
<line x1="207.5" y1="2.3" x2="207.5" y2="5.5" stroke="#1e1e1e" stroke-width="1.2"/>
<line x1="275.0" y1="204.5" x2="275.0" y2="207.7" stroke="#1e1e1e" stroke-width="1.2"/>
<line x1="275.0" y1="2.3" x2="275.0" y2="5.5" stroke="#1e1e1e" stroke-width="1.2"/>
<polygon points="211.6,11.7 215.9,16.4 211.6,21.1 207.29999999999998,16.4" fill="#ff0000" stroke="#3a22c8" stroke-width="1"/>
<line x1="211.6" y1="25.4" x2="211.6" y2="35.6" stroke="#3434c4" stroke-width="1"/>
<line x1="208.0" y1="25.4" x2="215.2" y2="25.4" stroke="#3434c4" stroke-width="1"/>
<line x1="208.0" y1="35.6" x2="215.2" y2="35.6" stroke="#3434c4" stroke-width="1"/>
<rect x="210.5" y="43.4" width="2.3" height="2.3" fill="none" stroke="#9a9ae0" stroke-width="0.7"/>
<g fill="#0000ff"><rect x="410.25" y="17.15" width="2.7" height="2.7" transform="rotate(45 411.60 18.50)"/><rect x="410.25" y="27.45" width="2.7" height="2.7" transform="rotate(45 411.60 28.80)"/><rect x="412.85" y="26.35" width="2.7" height="2.7" transform="rotate(45 414.20 27.70)"/><rect x="412.85" y="33.75" width="2.7" height="2.7" transform="rotate(45 414.20 35.10)"/><rect x="411.65" y="56.45" width="2.7" height="2.7" transform="rotate(45 413.00 57.80)"/><rect x="407.85" y="68.25" width="2.7" height="2.7" transform="rotate(45 409.20 69.60)"/><rect x="409.85" y="67.85" width="2.7" height="2.7" transform="rotate(45 411.20 69.20)"/><rect x="412.85" y="79.35" width="2.7" height="2.7" transform="rotate(45 414.20 80.70)"/><rect x="415.15" y="79.35" width="2.7" height="2.7" transform="rotate(45 416.50 80.70)"/><rect x="414.15" y="81.35" width="2.7" height="2.7" transform="rotate(45 415.50 82.70)"/><rect x="409.05" y="88.65" width="2.7" height="2.7" transform="rotate(45 410.40 90.00)"/><rect x="410.25" y="93.55" width="2.7" height="2.7" transform="rotate(45 411.60 94.90)"/><rect x="411.65" y="92.25" width="2.7" height="2.7" transform="rotate(45 413.00 93.60)"/><rect x="413.35" y="97.85" width="2.7" height="2.7" transform="rotate(45 414.70 99.20)"/><rect x="415.65" y="96.85" width="2.7" height="2.7" transform="rotate(45 417.00 98.20)"/><rect x="407.85" y="103.25" width="2.7" height="2.7" transform="rotate(45 409.20 104.60)"/><rect x="407.85" y="110.65" width="2.7" height="2.7" transform="rotate(45 409.20 112.00)"/><rect x="412.85" y="109.45" width="2.7" height="2.7" transform="rotate(45 414.20 110.80)"/><rect x="415.65" y="113.25" width="2.7" height="2.7" transform="rotate(45 417.00 114.60)"/><rect x="409.85" y="117.85" width="2.7" height="2.7" transform="rotate(45 411.20 119.20)"/><rect x="417.45" y="118.35" width="2.7" height="2.7" transform="rotate(45 418.80 119.70)"/><rect x="415.15" y="113.95" width="2.7" height="2.7" transform="rotate(45 416.50 115.30)"/><rect x="405.15" y="120.15" width="2.7" height="2.7" transform="rotate(45 406.50 121.50)"/><rect x="410.25" y="118.25" width="2.7" height="2.7" transform="rotate(45 411.60 119.60)"/><rect x="419.05" y="120.55" width="2.7" height="2.7" transform="rotate(45 420.40 121.90)"/><rect x="411.85" y="124.75" width="2.7" height="2.7" transform="rotate(45 413.20 126.10)"/><rect x="421.85" y="124.45" width="2.7" height="2.7" transform="rotate(45 423.20 125.80)"/><rect x="401.35" y="129.05" width="2.7" height="2.7" transform="rotate(45 402.70 130.40)"/><rect x="406.75" y="128.25" width="2.7" height="2.7" transform="rotate(45 408.10 129.60)"/><rect x="409.05" y="128.55" width="2.7" height="2.7" transform="rotate(45 410.40 129.90)"/><rect x="414.45" y="129.85" width="2.7" height="2.7" transform="rotate(45 415.80 131.20)"/><rect x="416.75" y="128.25" width="2.7" height="2.7" transform="rotate(45 418.10 129.60)"/><rect x="404.15" y="132.45" width="2.7" height="2.7" transform="rotate(45 405.50 133.80)"/><rect x="421.85" y="133.65" width="2.7" height="2.7" transform="rotate(45 423.20 135.00)"/><rect x="401.35" y="137.45" width="2.7" height="2.7" transform="rotate(45 402.70 138.80)"/><rect x="409.05" y="137.05" width="2.7" height="2.7" transform="rotate(45 410.40 138.40)"/><rect x="414.15" y="137.05" width="2.7" height="2.7" transform="rotate(45 415.50 138.40)"/><rect x="419.35" y="137.05" width="2.7" height="2.7" transform="rotate(45 420.70 138.40)"/><rect x="406.75" y="141.05" width="2.7" height="2.7" transform="rotate(45 408.10 142.40)"/><rect x="411.85" y="140.55" width="2.7" height="2.7" transform="rotate(45 413.20 141.90)"/><rect x="416.75" y="142.15" width="2.7" height="2.7" transform="rotate(45 418.10 143.50)"/><rect x="404.15" y="143.35" width="2.7" height="2.7" transform="rotate(45 405.50 144.70)"/><rect x="406.75" y="154.45" width="2.7" height="2.7" transform="rotate(45 408.10 155.80)"/><rect x="409.05" y="155.85" width="2.7" height="2.7" transform="rotate(45 410.40 157.20)"/><rect x="411.85" y="153.25" width="2.7" height="2.7" transform="rotate(45 413.20 154.60)"/><rect x="414.15" y="154.85" width="2.7" height="2.7" transform="rotate(45 415.50 156.20)"/><rect x="416.75" y="153.75" width="2.7" height="2.7" transform="rotate(45 418.10 155.10)"/><rect x="419.35" y="154.45" width="2.7" height="2.7" transform="rotate(45 420.70 155.80)"/><rect x="403.95" y="159.45" width="2.7" height="2.7" transform="rotate(45 405.30 160.80)"/><rect x="410.25" y="160.15" width="2.7" height="2.7" transform="rotate(45 411.60 161.50)"/><rect x="407.85" y="164.05" width="2.7" height="2.7" transform="rotate(45 409.20 165.40)"/><rect x="412.85" y="171.45" width="2.7" height="2.7" transform="rotate(45 414.20 172.80)"/><rect x="415.45" y="170.45" width="2.7" height="2.7" transform="rotate(45 416.80 171.80)"/><rect x="411.65" y="174.35" width="2.7" height="2.7" transform="rotate(45 413.00 175.70)"/><rect x="477.85" y="31.65" width="2.7" height="2.7" transform="rotate(45 479.20 33.00)"/><rect x="480.15" y="33.15" width="2.7" height="2.7" transform="rotate(45 481.50 34.50)"/><rect x="479.15" y="55.95" width="2.7" height="2.7" transform="rotate(45 480.50 57.30)"/><rect x="480.15" y="74.05" width="2.7" height="2.7" transform="rotate(45 481.50 75.40)"/><rect x="478.15" y="77.85" width="2.7" height="2.7" transform="rotate(45 479.50 79.20)"/><rect x="477.45" y="86.35" width="2.7" height="2.7" transform="rotate(45 478.80 87.70)"/><rect x="479.15" y="91.75" width="2.7" height="2.7" transform="rotate(45 480.50 93.10)"/><rect x="480.95" y="92.85" width="2.7" height="2.7" transform="rotate(45 482.30 94.20)"/><rect x="481.75" y="96.05" width="2.7" height="2.7" transform="rotate(45 483.10 97.40)"/><rect x="478.15" y="97.45" width="2.7" height="2.7" transform="rotate(45 479.50 98.80)"/><rect x="481.45" y="95.95" width="2.7" height="2.7" transform="rotate(45 482.80 97.30)"/><rect x="476.65" y="104.75" width="2.7" height="2.7" transform="rotate(45 478.00 106.10)"/><rect x="479.85" y="105.65" width="2.7" height="2.7" transform="rotate(45 481.20 107.00)"/><rect x="478.15" y="110.85" width="2.7" height="2.7" transform="rotate(45 479.50 112.20)"/><rect x="476.65" y="115.95" width="2.7" height="2.7" transform="rotate(45 478.00 117.30)"/><rect x="481.75" y="115.95" width="2.7" height="2.7" transform="rotate(45 483.10 117.30)"/><rect x="475.15" y="118.75" width="2.7" height="2.7" transform="rotate(45 476.50 120.10)"/><rect x="477.45" y="120.15" width="2.7" height="2.7" transform="rotate(45 478.80 121.50)"/><rect x="480.15" y="120.15" width="2.7" height="2.7" transform="rotate(45 481.50 121.50)"/><rect x="483.25" y="120.15" width="2.7" height="2.7" transform="rotate(45 484.60 121.50)"/><rect x="484.05" y="121.35" width="2.7" height="2.7" transform="rotate(45 485.40 122.70)"/><rect x="472.45" y="122.85" width="2.7" height="2.7" transform="rotate(45 473.80 124.20)"/><rect x="478.95" y="124.15" width="2.7" height="2.7" transform="rotate(45 480.30 125.50)"/><rect x="474.05" y="125.95" width="2.7" height="2.7" transform="rotate(45 475.40 127.30)"/><rect x="482.45" y="127.45" width="2.7" height="2.7" transform="rotate(45 483.80 128.80)"/><rect x="485.55" y="127.05" width="2.7" height="2.7" transform="rotate(45 486.90 128.40)"/><rect x="468.65" y="133.35" width="2.7" height="2.7" transform="rotate(45 470.00 134.70)"/><rect x="475.85" y="132.55" width="2.7" height="2.7" transform="rotate(45 477.20 133.90)"/><rect x="468.35" y="134.35" width="2.7" height="2.7" transform="rotate(45 469.70 135.70)"/><rect x="476.85" y="134.35" width="2.7" height="2.7" transform="rotate(45 478.20 135.70)"/><rect x="479.85" y="136.05" width="2.7" height="2.7" transform="rotate(45 481.20 137.40)"/><rect x="484.85" y="137.45" width="2.7" height="2.7" transform="rotate(45 486.20 138.80)"/><rect x="489.85" y="139.45" width="2.7" height="2.7" transform="rotate(45 491.20 140.80)"/><rect x="469.85" y="140.45" width="2.7" height="2.7" transform="rotate(45 471.20 141.80)"/><rect x="471.75" y="140.65" width="2.7" height="2.7" transform="rotate(45 473.10 142.00)"/><rect x="475.15" y="142.05" width="2.7" height="2.7" transform="rotate(45 476.50 143.40)"/><rect x="478.35" y="140.95" width="2.7" height="2.7" transform="rotate(45 479.70 142.30)"/><rect x="481.75" y="140.95" width="2.7" height="2.7" transform="rotate(45 483.10 142.30)"/><rect x="483.25" y="144.35" width="2.7" height="2.7" transform="rotate(45 484.60 145.70)"/><rect x="473.25" y="146.05" width="2.7" height="2.7" transform="rotate(45 474.60 147.40)"/><rect x="482.45" y="148.15" width="2.7" height="2.7" transform="rotate(45 483.80 149.50)"/><rect x="484.05" y="147.85" width="2.7" height="2.7" transform="rotate(45 485.40 149.20)"/><rect x="486.85" y="146.35" width="2.7" height="2.7" transform="rotate(45 488.20 147.70)"/><rect x="487.85" y="145.85" width="2.7" height="2.7" transform="rotate(45 489.20 147.20)"/><rect x="475.85" y="154.85" width="2.7" height="2.7" transform="rotate(45 477.20 156.20)"/><rect x="477.45" y="153.75" width="2.7" height="2.7" transform="rotate(45 478.80 155.10)"/><rect x="478.65" y="153.55" width="2.7" height="2.7" transform="rotate(45 480.00 154.90)"/><rect x="474.05" y="159.45" width="2.7" height="2.7" transform="rotate(45 475.40 160.80)"/><rect x="480.95" y="159.45" width="2.7" height="2.7" transform="rotate(45 482.30 160.80)"/><rect x="478.15" y="164.35" width="2.7" height="2.7" transform="rotate(45 479.50 165.70)"/><rect x="481.75" y="165.85" width="2.7" height="2.7" transform="rotate(45 483.10 167.20)"/><rect x="476.65" y="168.15" width="2.7" height="2.7" transform="rotate(45 478.00 169.50)"/><rect x="479.85" y="170.65" width="2.7" height="2.7" transform="rotate(45 481.20 172.00)"/><rect x="544.05" y="82.55" width="2.7" height="2.7" transform="rotate(45 545.40 83.90)"/><rect x="551.25" y="81.05" width="2.7" height="2.7" transform="rotate(45 552.60 82.40)"/><rect x="545.85" y="86.75" width="2.7" height="2.7" transform="rotate(45 547.20 88.10)"/><rect x="549.45" y="88.25" width="2.7" height="2.7" transform="rotate(45 550.80 89.60)"/><rect x="542.05" y="90.55" width="2.7" height="2.7" transform="rotate(45 543.40 91.90)"/><rect x="547.75" y="91.85" width="2.7" height="2.7" transform="rotate(45 549.10 93.20)"/><rect x="554.65" y="93.65" width="2.7" height="2.7" transform="rotate(45 556.00 95.00)"/><rect x="540.45" y="97.45" width="2.7" height="2.7" transform="rotate(45 541.80 98.80)"/><rect x="544.05" y="99.35" width="2.7" height="2.7" transform="rotate(45 545.40 100.70)"/><rect x="538.65" y="101.65" width="2.7" height="2.7" transform="rotate(45 540.00 103.00)"/><rect x="542.45" y="102.15" width="2.7" height="2.7" transform="rotate(45 543.80 103.50)"/><rect x="545.45" y="104.45" width="2.7" height="2.7" transform="rotate(45 546.80 105.80)"/><rect x="546.95" y="105.65" width="2.7" height="2.7" transform="rotate(45 548.30 107.00)"/><rect x="548.65" y="106.75" width="2.7" height="2.7" transform="rotate(45 550.00 108.10)"/><rect x="549.75" y="102.15" width="2.7" height="2.7" transform="rotate(45 551.10 103.50)"/><rect x="553.15" y="102.15" width="2.7" height="2.7" transform="rotate(45 554.50 103.50)"/><rect x="551.25" y="106.25" width="2.7" height="2.7" transform="rotate(45 552.60 107.60)"/><rect x="543.25" y="110.15" width="2.7" height="2.7" transform="rotate(45 544.60 111.50)"/><rect x="537.75" y="113.35" width="2.7" height="2.7" transform="rotate(45 539.10 114.70)"/><rect x="537.75" y="114.05" width="2.7" height="2.7" transform="rotate(45 539.10 115.40)"/><rect x="545.15" y="115.15" width="2.7" height="2.7" transform="rotate(45 546.50 116.50)"/><rect x="555.45" y="116.35" width="2.7" height="2.7" transform="rotate(45 556.80 117.70)"/><rect x="536.05" y="120.05" width="2.7" height="2.7" transform="rotate(45 537.40 121.40)"/><rect x="539.25" y="120.05" width="2.7" height="2.7" transform="rotate(45 540.60 121.40)"/><rect x="541.25" y="120.05" width="2.7" height="2.7" transform="rotate(45 542.60 121.40)"/><rect x="546.65" y="120.05" width="2.7" height="2.7" transform="rotate(45 548.00 121.40)"/><rect x="550.25" y="120.05" width="2.7" height="2.7" transform="rotate(45 551.60 121.40)"/><rect x="552.05" y="120.05" width="2.7" height="2.7" transform="rotate(45 553.40 121.40)"/><rect x="553.85" y="120.05" width="2.7" height="2.7" transform="rotate(45 555.20 121.40)"/><rect x="556.85" y="120.05" width="2.7" height="2.7" transform="rotate(45 558.20 121.40)"/><rect x="544.05" y="122.15" width="2.7" height="2.7" transform="rotate(45 545.40 123.50)"/><rect x="537.15" y="126.05" width="2.7" height="2.7" transform="rotate(45 538.50 127.40)"/><rect x="538.95" y="127.45" width="2.7" height="2.7" transform="rotate(45 540.30 128.80)"/><rect x="540.45" y="127.85" width="2.7" height="2.7" transform="rotate(45 541.80 129.20)"/><rect x="547.85" y="124.45" width="2.7" height="2.7" transform="rotate(45 549.20 125.80)"/><rect x="549.75" y="126.05" width="2.7" height="2.7" transform="rotate(45 551.10 127.40)"/><rect x="554.05" y="128.15" width="2.7" height="2.7" transform="rotate(45 555.40 129.50)"/><rect x="552.45" y="129.15" width="2.7" height="2.7" transform="rotate(45 553.80 130.50)"/><rect x="545.85" y="130.15" width="2.7" height="2.7" transform="rotate(45 547.20 131.50)"/><rect x="542.05" y="132.45" width="2.7" height="2.7" transform="rotate(45 543.40 133.80)"/><rect x="550.95" y="132.45" width="2.7" height="2.7" transform="rotate(45 552.30 133.80)"/><rect x="543.55" y="135.15" width="2.7" height="2.7" transform="rotate(45 544.90 136.50)"/><rect x="549.45" y="135.15" width="2.7" height="2.7" transform="rotate(45 550.80 136.50)"/><rect x="551.25" y="136.05" width="2.7" height="2.7" transform="rotate(45 552.60 137.40)"/><rect x="542.05" y="137.45" width="2.7" height="2.7" transform="rotate(45 543.40 138.80)"/><rect x="545.85" y="143.25" width="2.7" height="2.7" transform="rotate(45 547.20 144.60)"/><rect x="547.45" y="145.15" width="2.7" height="2.7" transform="rotate(45 548.80 146.50)"/><rect x="544.05" y="150.65" width="2.7" height="2.7" transform="rotate(45 545.40 152.00)"/><rect x="547.45" y="149.75" width="2.7" height="2.7" transform="rotate(45 548.80 151.10)"/><rect x="549.45" y="152.85" width="2.7" height="2.7" transform="rotate(45 550.80 154.20)"/><rect x="545.85" y="154.05" width="2.7" height="2.7" transform="rotate(45 547.20 155.40)"/><rect x="546.65" y="166.35" width="2.7" height="2.7" transform="rotate(45 548.00 167.70)"/><rect x="614.15" y="82.15" width="2.7" height="2.7" transform="rotate(45 615.50 83.50)"/><rect x="613.35" y="102.45" width="2.7" height="2.7" transform="rotate(45 614.70 103.80)"/><rect x="614.85" y="104.45" width="2.7" height="2.7" transform="rotate(45 616.20 105.80)"/><rect x="605.95" y="110.15" width="2.7" height="2.7" transform="rotate(45 607.30 111.50)"/><rect x="615.15" y="110.15" width="2.7" height="2.7" transform="rotate(45 616.50 111.50)"/><rect x="610.85" y="113.05" width="2.7" height="2.7" transform="rotate(45 612.20 114.40)"/><rect x="618.75" y="113.05" width="2.7" height="2.7" transform="rotate(45 620.10 114.40)"/><rect x="610.85" y="114.05" width="2.7" height="2.7" transform="rotate(45 612.20 115.40)"/><rect x="619.05" y="113.25" width="2.7" height="2.7" transform="rotate(45 620.40 114.60)"/><rect x="609.05" y="116.35" width="2.7" height="2.7" transform="rotate(45 610.40 117.70)"/><rect x="602.65" y="120.25" width="2.7" height="2.7" transform="rotate(45 604.00 121.60)"/><rect x="604.25" y="120.45" width="2.7" height="2.7" transform="rotate(45 605.60 121.80)"/><rect x="606.05" y="120.05" width="2.7" height="2.7" transform="rotate(45 607.40 121.40)"/><rect x="607.85" y="120.25" width="2.7" height="2.7" transform="rotate(45 609.20 121.60)"/><rect x="609.65" y="119.85" width="2.7" height="2.7" transform="rotate(45 611.00 121.20)"/><rect x="612.25" y="120.05" width="2.7" height="2.7" transform="rotate(45 613.60 121.40)"/><rect x="614.65" y="119.85" width="2.7" height="2.7" transform="rotate(45 616.00 121.20)"/><rect x="617.15" y="119.65" width="2.7" height="2.7" transform="rotate(45 618.50 121.00)"/><rect x="619.65" y="119.45" width="2.7" height="2.7" transform="rotate(45 621.00 120.80)"/><rect x="622.15" y="119.25" width="2.7" height="2.7" transform="rotate(45 623.50 120.60)"/><rect x="624.65" y="118.95" width="2.7" height="2.7" transform="rotate(45 626.00 120.30)"/><rect x="625.85" y="119.05" width="2.7" height="2.7" transform="rotate(45 627.20 120.40)"/><rect x="604.45" y="123.15" width="2.7" height="2.7" transform="rotate(45 605.80 124.50)"/><rect x="603.25" y="121.85" width="2.7" height="2.7" transform="rotate(45 604.60 123.20)"/><rect x="603.65" y="122.45" width="2.7" height="2.7" transform="rotate(45 605.00 123.80)"/><rect x="615.15" y="122.85" width="2.7" height="2.7" transform="rotate(45 616.50 124.20)"/><rect x="607.15" y="127.85" width="2.7" height="2.7" transform="rotate(45 608.50 129.20)"/><rect x="611.05" y="128.95" width="2.7" height="2.7" transform="rotate(45 612.40 130.30)"/><rect x="613.65" y="128.35" width="2.7" height="2.7" transform="rotate(45 615.00 129.70)"/><rect x="616.45" y="126.85" width="2.7" height="2.7" transform="rotate(45 617.80 128.20)"/><rect x="618.75" y="129.45" width="2.7" height="2.7" transform="rotate(45 620.10 130.80)"/><rect x="621.35" y="132.15" width="2.7" height="2.7" transform="rotate(45 622.70 133.50)"/><rect x="625.15" y="131.75" width="2.7" height="2.7" transform="rotate(45 626.50 133.10)"/><rect x="623.65" y="132.05" width="2.7" height="2.7" transform="rotate(45 625.00 133.40)"/><rect x="617.95" y="134.85" width="2.7" height="2.7" transform="rotate(45 619.30 136.20)"/><rect x="612.85" y="137.15" width="2.7" height="2.7" transform="rotate(45 614.20 138.50)"/><rect x="611.65" y="140.95" width="2.7" height="2.7" transform="rotate(45 613.00 142.30)"/><rect x="614.15" y="141.25" width="2.7" height="2.7" transform="rotate(45 615.50 142.60)"/><rect x="616.75" y="141.75" width="2.7" height="2.7" transform="rotate(45 618.10 143.10)"/><rect x="610.25" y="144.35" width="2.7" height="2.7" transform="rotate(45 611.60 145.70)"/><rect x="617.45" y="147.15" width="2.7" height="2.7" transform="rotate(45 618.80 148.50)"/><rect x="611.05" y="149.45" width="2.7" height="2.7" transform="rotate(45 612.40 150.80)"/><rect x="615.15" y="150.95" width="2.7" height="2.7" transform="rotate(45 616.50 152.30)"/><rect x="613.65" y="153.25" width="2.7" height="2.7" transform="rotate(45 615.00 154.60)"/><rect x="612.15" y="156.35" width="2.7" height="2.7" transform="rotate(45 613.50 157.70)"/><rect x="616.45" y="156.85" width="2.7" height="2.7" transform="rotate(45 617.80 158.20)"/></g>
<line x1="443.4" y1="42.2" x2="443.4" y2="195.6" stroke="#3434c4" stroke-width="1"/>
<line x1="437.59999999999997" y1="42.2" x2="449.2" y2="42.2" stroke="#3434c4" stroke-width="1"/>
<line x1="437.59999999999997" y1="195.6" x2="449.2" y2="195.6" stroke="#3434c4" stroke-width="1"/>
<polygon points="443.4,81.1 455.09999999999997,119.0 443.4,156.9 431.7,119.0" fill="#ff0000" stroke="#3020b8" stroke-width="1"/>
<rect x="442.2" y="117.8" width="2.4" height="2.4" fill="none" stroke="#8a3a9a" stroke-width="0.7"/>
<line x1="510.9" y1="64.5" x2="510.9" y2="187.3" stroke="#3434c4" stroke-width="1"/>
<line x1="505.09999999999997" y1="64.5" x2="516.6999999999999" y2="64.5" stroke="#3434c4" stroke-width="1"/>
<line x1="505.09999999999997" y1="187.3" x2="516.6999999999999" y2="187.3" stroke="#3434c4" stroke-width="1"/>
<polygon points="510.9,95.5 522.5,126.0 510.9,156.5 499.29999999999995,126.0" fill="#ff0000" stroke="#3020b8" stroke-width="1"/>
<rect x="509.7" y="124.8" width="2.4" height="2.4" fill="none" stroke="#8a3a9a" stroke-width="0.7"/>
<line x1="578.4" y1="82.2" x2="578.4" y2="159.0" stroke="#3434c4" stroke-width="1"/>
<line x1="572.6" y1="82.2" x2="584.1999999999999" y2="82.2" stroke="#3434c4" stroke-width="1"/>
<line x1="572.6" y1="159.0" x2="584.1999999999999" y2="159.0" stroke="#3434c4" stroke-width="1"/>
<polygon points="578.4,101.19999999999999 590.1,120.6 578.4,140.0 566.6999999999999,120.6" fill="#ff0000" stroke="#3020b8" stroke-width="1"/>
<rect x="577.1999999999999" y="119.39999999999999" width="2.4" height="2.4" fill="none" stroke="#8a3a9a" stroke-width="0.7"/>
<line x1="646.1" y1="99.6" x2="646.1" y2="155.2" stroke="#3434c4" stroke-width="1"/>
<line x1="640.3000000000001" y1="99.6" x2="651.9" y2="99.6" stroke="#3434c4" stroke-width="1"/>
<line x1="640.3000000000001" y1="155.2" x2="651.9" y2="155.2" stroke="#3434c4" stroke-width="1"/>
<polygon points="646.1,113.60000000000001 657.7,127.2 646.1,140.8 634.5,127.2" fill="#ff0000" stroke="#3020b8" stroke-width="1"/>
<rect x="644.9" y="126.0" width="2.4" height="2.4" fill="none" stroke="#8a3a9a" stroke-width="0.7"/>
<rect x="394.4" y="5.5" width="284.0" height="199.0" fill="none" stroke="#1e1e1e" stroke-width="1.2"/>
<line x1="391.2" y1="22.08" x2="394.4" y2="22.08" stroke="#1e1e1e" stroke-width="1.2"/>
<line x1="678.4" y1="22.08" x2="681.6" y2="22.08" stroke="#1e1e1e" stroke-width="1.2"/>
<line x1="391.2" y1="55.25" x2="394.4" y2="55.25" stroke="#1e1e1e" stroke-width="1.2"/>
<line x1="678.4" y1="55.25" x2="681.6" y2="55.25" stroke="#1e1e1e" stroke-width="1.2"/>
<line x1="391.2" y1="88.42" x2="394.4" y2="88.42" stroke="#1e1e1e" stroke-width="1.2"/>
<line x1="678.4" y1="88.42" x2="681.6" y2="88.42" stroke="#1e1e1e" stroke-width="1.2"/>
<line x1="391.2" y1="121.58" x2="394.4" y2="121.58" stroke="#1e1e1e" stroke-width="1.2"/>
<line x1="678.4" y1="121.58" x2="681.6" y2="121.58" stroke="#1e1e1e" stroke-width="1.2"/>
<line x1="391.2" y1="154.75" x2="394.4" y2="154.75" stroke="#1e1e1e" stroke-width="1.2"/>
<line x1="678.4" y1="154.75" x2="681.6" y2="154.75" stroke="#1e1e1e" stroke-width="1.2"/>
<line x1="391.2" y1="187.92" x2="394.4" y2="187.92" stroke="#1e1e1e" stroke-width="1.2"/>
<line x1="678.4" y1="187.92" x2="681.6" y2="187.92" stroke="#1e1e1e" stroke-width="1.2"/>
<line x1="392.59999999999997" y1="38.67" x2="394.4" y2="38.67" stroke="#1e1e1e" stroke-width="1.2"/>
<line x1="676.6" y1="38.67" x2="678.4" y2="38.67" stroke="#1e1e1e" stroke-width="1.2"/>
<line x1="392.59999999999997" y1="71.83" x2="394.4" y2="71.83" stroke="#1e1e1e" stroke-width="1.2"/>
<line x1="676.6" y1="71.83" x2="678.4" y2="71.83" stroke="#1e1e1e" stroke-width="1.2"/>
<line x1="392.59999999999997" y1="105.00" x2="394.4" y2="105.00" stroke="#1e1e1e" stroke-width="1.2"/>
<line x1="676.6" y1="105.00" x2="678.4" y2="105.00" stroke="#1e1e1e" stroke-width="1.2"/>
<line x1="392.59999999999997" y1="138.17" x2="394.4" y2="138.17" stroke="#1e1e1e" stroke-width="1.2"/>
<line x1="676.6" y1="138.17" x2="678.4" y2="138.17" stroke="#1e1e1e" stroke-width="1.2"/>
<line x1="392.59999999999997" y1="171.33" x2="394.4" y2="171.33" stroke="#1e1e1e" stroke-width="1.2"/>
<line x1="676.6" y1="171.33" x2="678.4" y2="171.33" stroke="#1e1e1e" stroke-width="1.2"/>
<line x1="428.4" y1="204.5" x2="428.4" y2="207.7" stroke="#1e1e1e" stroke-width="1.2"/>
<line x1="428.4" y1="2.3" x2="428.4" y2="5.5" stroke="#1e1e1e" stroke-width="1.2"/>
<line x1="495.9" y1="204.5" x2="495.9" y2="207.7" stroke="#1e1e1e" stroke-width="1.2"/>
<line x1="495.9" y1="2.3" x2="495.9" y2="5.5" stroke="#1e1e1e" stroke-width="1.2"/>
<line x1="563.4" y1="204.5" x2="563.4" y2="207.7" stroke="#1e1e1e" stroke-width="1.2"/>
<line x1="563.4" y1="2.3" x2="563.4" y2="5.5" stroke="#1e1e1e" stroke-width="1.2"/>
<line x1="630.9" y1="204.5" x2="630.9" y2="207.7" stroke="#1e1e1e" stroke-width="1.2"/>
<line x1="630.9" y1="2.3" x2="630.9" y2="5.5" stroke="#1e1e1e" stroke-width="1.2"/>
<polygon points="567.5,11.7 571.8,16.4 567.5,21.1 563.2,16.4" fill="#ff0000" stroke="#3a22c8" stroke-width="1"/>
<line x1="567.5" y1="25.4" x2="567.5" y2="35.6" stroke="#3434c4" stroke-width="1"/>
<line x1="563.9" y1="25.4" x2="571.1" y2="25.4" stroke="#3434c4" stroke-width="1"/>
<line x1="563.9" y1="35.6" x2="571.1" y2="35.6" stroke="#3434c4" stroke-width="1"/>
<rect x="566.4" y="43.4" width="2.3" height="2.3" fill="none" stroke="#9a9ae0" stroke-width="0.7"/>
<g class="tg"><text x="94.2" y="54.4" class="sd">1.96 SD</text>
<text x="93.9" y="191.4" class="sd">-1.96 SD</text>
<text x="161.9" y="62.0" class="sd">1.96 SD</text>
<text x="161.6" y="187.4" class="sd">-1.96 SD</text>
<text x="229.4" y="88.2" class="sd">1.96 SD</text>
<text x="229.1" y="163.9" class="sd">-1.96 SD</text>
<text x="296.9" y="103.7" class="sd">1.96 SD</text>
<text x="296.59999999999997" y="146.0" class="sd">-1.96 SD</text>
<text x="33.2" y="25.48" class="yt" text-anchor="end">15</text>
<text x="33.2" y="58.65" class="yt" text-anchor="end">10</text>
<text x="33.2" y="91.82" class="yt" text-anchor="end">5</text>
<text x="33.2" y="124.98" class="yt" text-anchor="end">0</text>
<text x="33.2" y="158.15" class="yt" text-anchor="end">−5</text>
<text x="33.2" y="191.32" class="yt" text-anchor="end">−10</text>
<text transform="translate(72.5 217.6) scale(1 1.12)" class="xt" text-anchor="middle">GEP1 (Train)</text>
<text transform="translate(140.0 217.6) scale(1 1.12)" class="xt" text-anchor="middle">GEP2 (Train)</text>
<text transform="translate(207.5 217.6) scale(1 1.12)" class="xt" text-anchor="middle">GEP3 (Train)</text>
<text transform="translate(275.0 217.6) scale(1 1.12)" class="xt" text-anchor="middle">GEP4 (Train)</text>
<text x="155.29999999999998" y="237.7" class="at">GEP models</text>
<text x="157.1" y="257.8" class="pl">(a)</text>
<text transform="translate(13.1 104.9) rotate(-90)" class="at" text-anchor="middle">Performance Metric (Residual)</text>
<text x="226.2" y="19.7" class="lg">Mean ± 1 SD</text>
<text x="226.2" y="33.7" class="lg">Mean ± 1.96 SD</text>
<text x="226.2" y="47.6" class="lg">Mean</text>
<text x="449.9" y="44.7" class="sd">1.96 SD</text>
<text x="449.59999999999997" y="198.1" class="sd">-1.96 SD</text>
<text x="517.4" y="67.0" class="sd">1.96 SD</text>
<text x="517.1" y="189.8" class="sd">-1.96 SD</text>
<text x="584.9" y="84.7" class="sd">1.96 SD</text>
<text x="584.6" y="161.5" class="sd">-1.96 SD</text>
<text x="652.6" y="102.1" class="sd">1.96 SD</text>
<text x="652.3000000000001" y="157.7" class="sd">-1.96 SD</text>
<text x="389.09999999999997" y="25.48" class="yt" text-anchor="end">15</text>
<text x="389.09999999999997" y="58.65" class="yt" text-anchor="end">10</text>
<text x="389.09999999999997" y="91.82" class="yt" text-anchor="end">5</text>
<text x="389.09999999999997" y="124.98" class="yt" text-anchor="end">0</text>
<text x="389.09999999999997" y="158.15" class="yt" text-anchor="end">−5</text>
<text x="389.09999999999997" y="191.32" class="yt" text-anchor="end">−10</text>
<text transform="translate(428.4 217.6) scale(1 1.12)" class="xt" text-anchor="middle">GEP1 (Test)</text>
<text transform="translate(495.9 217.6) scale(1 1.12)" class="xt" text-anchor="middle">GEP2 (Test)</text>
<text transform="translate(563.4 217.6) scale(1 1.12)" class="xt" text-anchor="middle">GEP3 (Test)</text>
<text transform="translate(630.9 217.6) scale(1 1.12)" class="xt" text-anchor="middle">GEP4 (Test)</text>
<text x="512.7" y="237.7" class="at">GEP models</text>
<text x="512.5" y="257.8" class="pl">(b)</text>
<text transform="translate(369.0 104.9) rotate(-90)" class="at" text-anchor="middle">Performance Metric (Residual)</text>
<text x="582.1" y="19.7" class="lg">Mean ± 1 SD</text>
<text x="582.1" y="33.7" class="lg">Mean ± 1.96 SD</text>
<text x="582.1" y="47.6" class="lg">Mean</text></g>
</g>
</svg>
</body></html>
